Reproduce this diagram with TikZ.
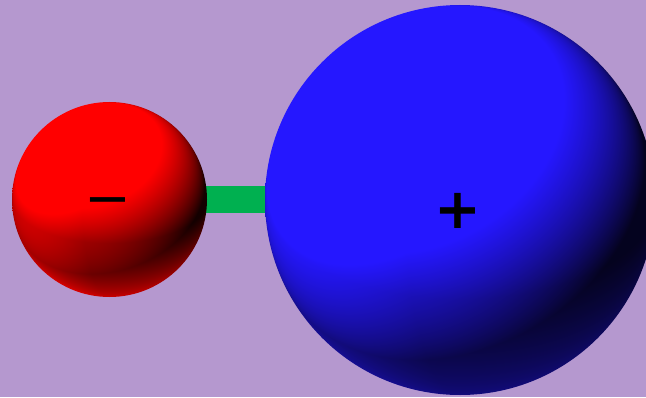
\documentclass[tikz,border=0pt]{standalone}
\usepackage{fontspec}
\newfontfamily\symfont{DejaVu Sans}
\definecolor{bgcol}{RGB}{181,152,207}
\definecolor{barcol}{RGB}{0,176,80}
% Lit spheres on a disc of radius 50bp: main light, bottom rim light, left rim light, ambient
\pgfdeclarefunctionalshading{redlit}{\pgfpoint{-56bp}{-56bp}}{\pgfpoint{56bp}{56bp}}{}{
  50 div exch 50 div exch
  2 copy dup mul exch dup mul add
  1 exch sub dup 0 lt {pop 0} if sqrt
  3 copy 0.95 mul exch 0.85 mul add exch -0.3 mul add dup 0 lt {pop 0} if
  4 1 roll
  3 copy -0.5 mul exch -1.0 mul add exch 0.0 mul add dup 0 lt {pop 0} if 0.75 mul
  4 1 roll
  -0.3 mul exch 0.0 mul add exch -1.0 mul add dup 0 lt {pop 0} if 0.32 mul
  add add 0.08 add
  dup 1 gt {pop 1} if
  dup 1.0 mul exch dup 0.0 mul exch 0.0 mul
}
\pgfdeclarefunctionalshading{bluelit}{\pgfpoint{-56bp}{-56bp}}{\pgfpoint{56bp}{56bp}}{}{
  50 div exch 50 div exch
  2 copy dup mul exch dup mul add
  1 exch sub dup 0 lt {pop 0} if sqrt
  3 copy 1.05 mul exch 0.8 mul add exch -0.45 mul add dup 0 lt {pop 0} if
  4 1 roll
  3 copy -0.5 mul exch -0.85 mul add exch 0.0 mul add dup 0 lt {pop 0} if 0.45 mul
  4 1 roll
  -0.3 mul exch 0.0 mul add exch -1.0 mul add dup 0 lt {pop 0} if 0.28 mul
  add add 0.12 add
  dup 1 gt {pop 1} if
  dup 0.145 mul exch dup 0.09 mul exch 1.0 mul
}
\tikzset{
  sign/.style={inner sep=0pt, outer sep=0pt, text=black},
}
\begin{document}
\begin{tikzpicture}[x=0.75pt,y=0.75pt]
\clip (0,0) rectangle (646,397);
\useasboundingbox (0,0) rectangle (646,397);
\fill[bgcol] (0,0) rectangle (646,397);
% connector bar
\fill[barcol] (206,184) rectangle (269,211);
% red sphere (radius 97.5px = 73.125pt)
\coordinate (redc) at (109.5,197.5);
\begin{scope}
  \clip (redc) circle (97.5);
  \pgflowlevel{\pgftransformshift{\pgfpoint{82.125pt}{148.125pt}}}
  \pgflowlevel{\pgftransformscale{1.457}}
  \pgfuseshading{redlit}
\end{scope}
% blue sphere (radius 195px = 146.25pt)
\coordinate (bluec) at (460,197);
\begin{scope}
  \clip (bluec) circle (195);
  \pgflowlevel{\pgftransformshift{\pgfpoint{345pt}{147.75pt}}}
  \pgflowlevel{\pgftransformscale{2.914}}
  \pgfuseshading{bluelit}
\end{scope}
% signs
\node[sign] (minus) at (108,189) {\symfont\fontsize{42}{42}\selectfont −};
\node[sign] (plus) at (458,186) {\symfont\bfseries\fontsize{42}{42}\selectfont +};
\end{tikzpicture}
\end{document}
